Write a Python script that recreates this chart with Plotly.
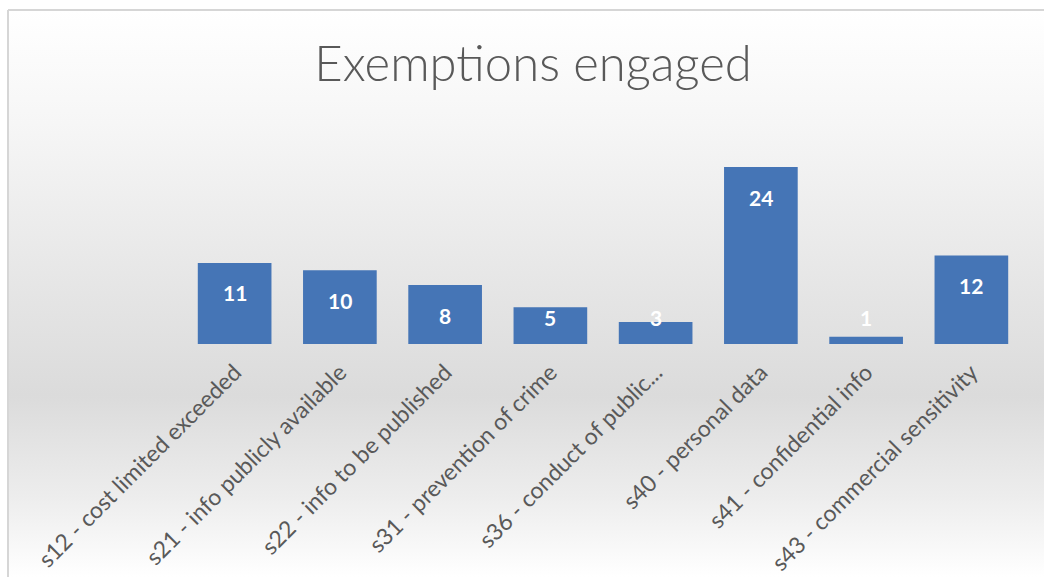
import base64
import plotly.graph_objects as go

categories = [
    "s12 - cost limited exceeded",
    "s21 - info publicly available",
    "s22 - info to be published",
    "s31 - prevention of crime",
    "s36 - conduct of public...",
    "s40 - personal data",
    "s41 - confidential info",
    "s43 - commercial sensitivity",
]
values = [11, 10, 8, 5, 3, 24, 1, 12]
chart_title = "Exemptions engaged"

W, H = 1044, 582
ML, MR, MT, MB = 182, 20, 130, 238
PX_PER_UNIT = 7.375
plot_w = W - ML - MR
plot_h = H - MT - MB
ymax = plot_h / PX_PER_UNIT

BAR_COLOR = "#4575B6"
TEXT_GRAY = "#595959"
FONT = "Lato, Open Sans, Liberation Sans, sans-serif"


def px_to_paper_x(px):
    return (px - ML) / plot_w


def px_to_paper_y(py):
    return (H - MB - py) / plot_h


# background gradient as an inline SVG image
svg = (
    '<svg xmlns="http://www.w3.org/2000/svg" width="100" height="100" preserveAspectRatio="none">'
    '<defs><linearGradient id="g" x1="0" y1="0" x2="0" y2="1">'
    '<stop offset="0" stop-color="#ffffff"/>'
    '<stop offset="0.2" stop-color="#f6f6f6"/>'
    '<stop offset="0.5" stop-color="#e5e5e5"/>'
    '<stop offset="0.68" stop-color="#dbdbdb"/>'
    '<stop offset="0.86" stop-color="#ededed"/>'
    '<stop offset="1" stop-color="#ffffff"/>'
    '</linearGradient></defs>'
    '<rect x="0" y="0" width="100" height="100" fill="url(#g)"/></svg>'
)
svg_uri = "data:image/svg+xml;base64," + base64.b64encode(svg.encode()).decode()

bx0, by0, bx1, by1 = 8, 10, W + 2, 577

fig = go.Figure()
fig.add_trace(
    go.Bar(
        x=categories,
        y=values,
        marker=dict(color=BAR_COLOR, line=dict(width=0)),
        width=0.7,
        hoverinfo="x+y",
    )
)

annotations = []
for c, v in zip(categories, values):
    bar_px = v * PX_PER_UNIT
    if bar_px - 30 >= 27:
        annotations.append(dict(x=c, y=v, yshift=-30))
    else:
        annotations.append(dict(x=c, y=0, yshift=27))
for a, v in zip(annotations, values):
    a.update(
        text=f"<b>{v}</b>",
        xref="x",
        yref="y",
        showarrow=False,
        font=dict(family=FONT, size=21, color="#ffffff"),
        yanchor="middle",
    )

fig.update_layout(
    width=W,
    height=H,
    margin=dict(l=ML, r=MR, t=MT, b=MB, autoexpand=False),
    paper_bgcolor="#ffffff",
    plot_bgcolor="rgba(0,0,0,0)",
    showlegend=False,
    bargap=0.3,
    title=dict(
        text=chart_title,
        x=533 / W,
        xref="container",
        xanchor="center",
        y=1 - 64 / H,
        yref="container",
        yanchor="middle",
        font=dict(family=FONT, size=49, color=TEXT_GRAY, weight=300),
    ),
    xaxis=dict(
        tickangle=-45,
        tickfont=dict(family=FONT, size=23, color=TEXT_GRAY),
        ticks="outside",
        ticklen=5,
        tickcolor="rgba(0,0,0,0)",
        showline=False,
        showgrid=False,
        zeroline=False,
        automargin=False,
    ),
    yaxis=dict(
        range=[0, ymax],
        visible=False,
        showgrid=False,
        zeroline=False,
    ),
    annotations=annotations,
    images=[
        dict(
            source=svg_uri,
            xref="paper",
            yref="paper",
            x=px_to_paper_x(bx0),
            y=px_to_paper_y(by0),
            sizex=px_to_paper_x(bx1) - px_to_paper_x(bx0),
            sizey=px_to_paper_y(by0) - px_to_paper_y(by1),
            xanchor="left",
            yanchor="top",
            sizing="stretch",
            layer="below",
        )
    ],
    shapes=[
        dict(
            type="line",
            xref="paper",
            yref="paper",
            x0=px_to_paper_x(bx0),
            x1=px_to_paper_x(bx1),
            y0=px_to_paper_y(by0),
            y1=px_to_paper_y(by0),
            line=dict(color="#d6d6d6", width=2),
            layer="below",
        ),
        dict(
            type="line",
            xref="paper",
            yref="paper",
            x0=px_to_paper_x(bx0),
            x1=px_to_paper_x(bx0),
            y0=px_to_paper_y(by0),
            y1=px_to_paper_y(by1),
            line=dict(color="#d6d6d6", width=2),
            layer="below",
        ),
    ],
)

fig.write_html(
    "out.html",
    config={"displayModeBar": False},
    post_script="document.body.style.margin='0';document.body.style.overflow='hidden';",
)
